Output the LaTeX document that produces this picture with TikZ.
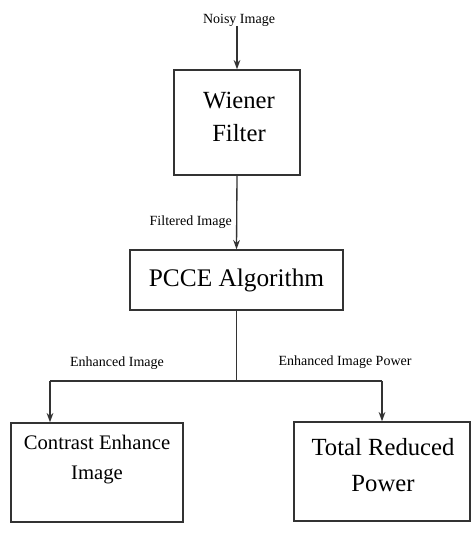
\documentclass[tikz,border=0pt]{standalone}
\usepackage{fontspec}
\setmainfont{Liberation Serif}
\usetikzlibrary{arrows.meta}
\tikzset{
  block/.style={draw=black!80, line width=1pt, fill=white, inner sep=0pt},
  blocktext/.style={align=center, inner sep=0pt},
  flowlabel/.style={font=\fontsize{10.5}{12}\selectfont, inner sep=0pt},
  flow/.style={line width=1pt, draw=black!80, -{Stealth[length=7pt,width=5pt]}},
  link/.style={line width=1pt, draw=black!80},
}

\begin{document}
\begin{tikzpicture}[x=0.75pt, y=-0.75pt]
\useasboundingbox (0,0) rectangle (475,539);
% blocks (sizes in pt, 1px = 0.75pt)
\node[block, minimum width=94.5pt, minimum height=78.75pt] (wiener) at (237,122.5) {};
\node[blocktext, font=\fontsize{18.5}{25}\selectfont] (wienertext) at (239,117) {Wiener\\Filter};
\node[block, minimum width=159.75pt, minimum height=45pt, font=\fontsize{19}{22}\selectfont] (pcce) at (236.5,280) {PCCE Algorithm};
\node[block, minimum width=129pt, minimum height=74.25pt] (contrast) at (97,472.5) {};
\node[blocktext, font=\fontsize{15.5}{22.5}\selectfont] (contrasttext) at (97,460) {Contrast Enhance\\Image};
\node[block, minimum width=132pt, minimum height=74.25pt] (power) at (382,471.5) {};
\node[blocktext, font=\fontsize{18.5}{27}\selectfont] (powertext) at (383,465) {Total Reduced\\Power};
% labels
\node[flowlabel] (noisy) at (239,20) {Noisy Image};
\node[flowlabel, anchor=east] (filtered) at (232,222) {Filtered Image};
\node[flowlabel] (enh) at (117,363) {Enhanced Image};
\node[flowlabel] (enhpow) at (345,362) {Enhanced Image Power};
\coordinate (split) at (pcce.south |- 0,381);
\coordinate (lsplit) at (50,381);
\coordinate (rsplit) at (power.north |- split);
% connectors
\draw[flow] (noisy.south -| wiener.north) -- (wiener.north);
\draw[flow] (wiener.south) -- (pcce.north);
\draw[link] (pcce.south) -- (split);
\draw[link] (lsplit) -- (rsplit);
\draw[flow] (lsplit) -- (lsplit |- contrast.north);
\draw[flow] (rsplit) -- (power.north);
\end{tikzpicture}
\end{document}
